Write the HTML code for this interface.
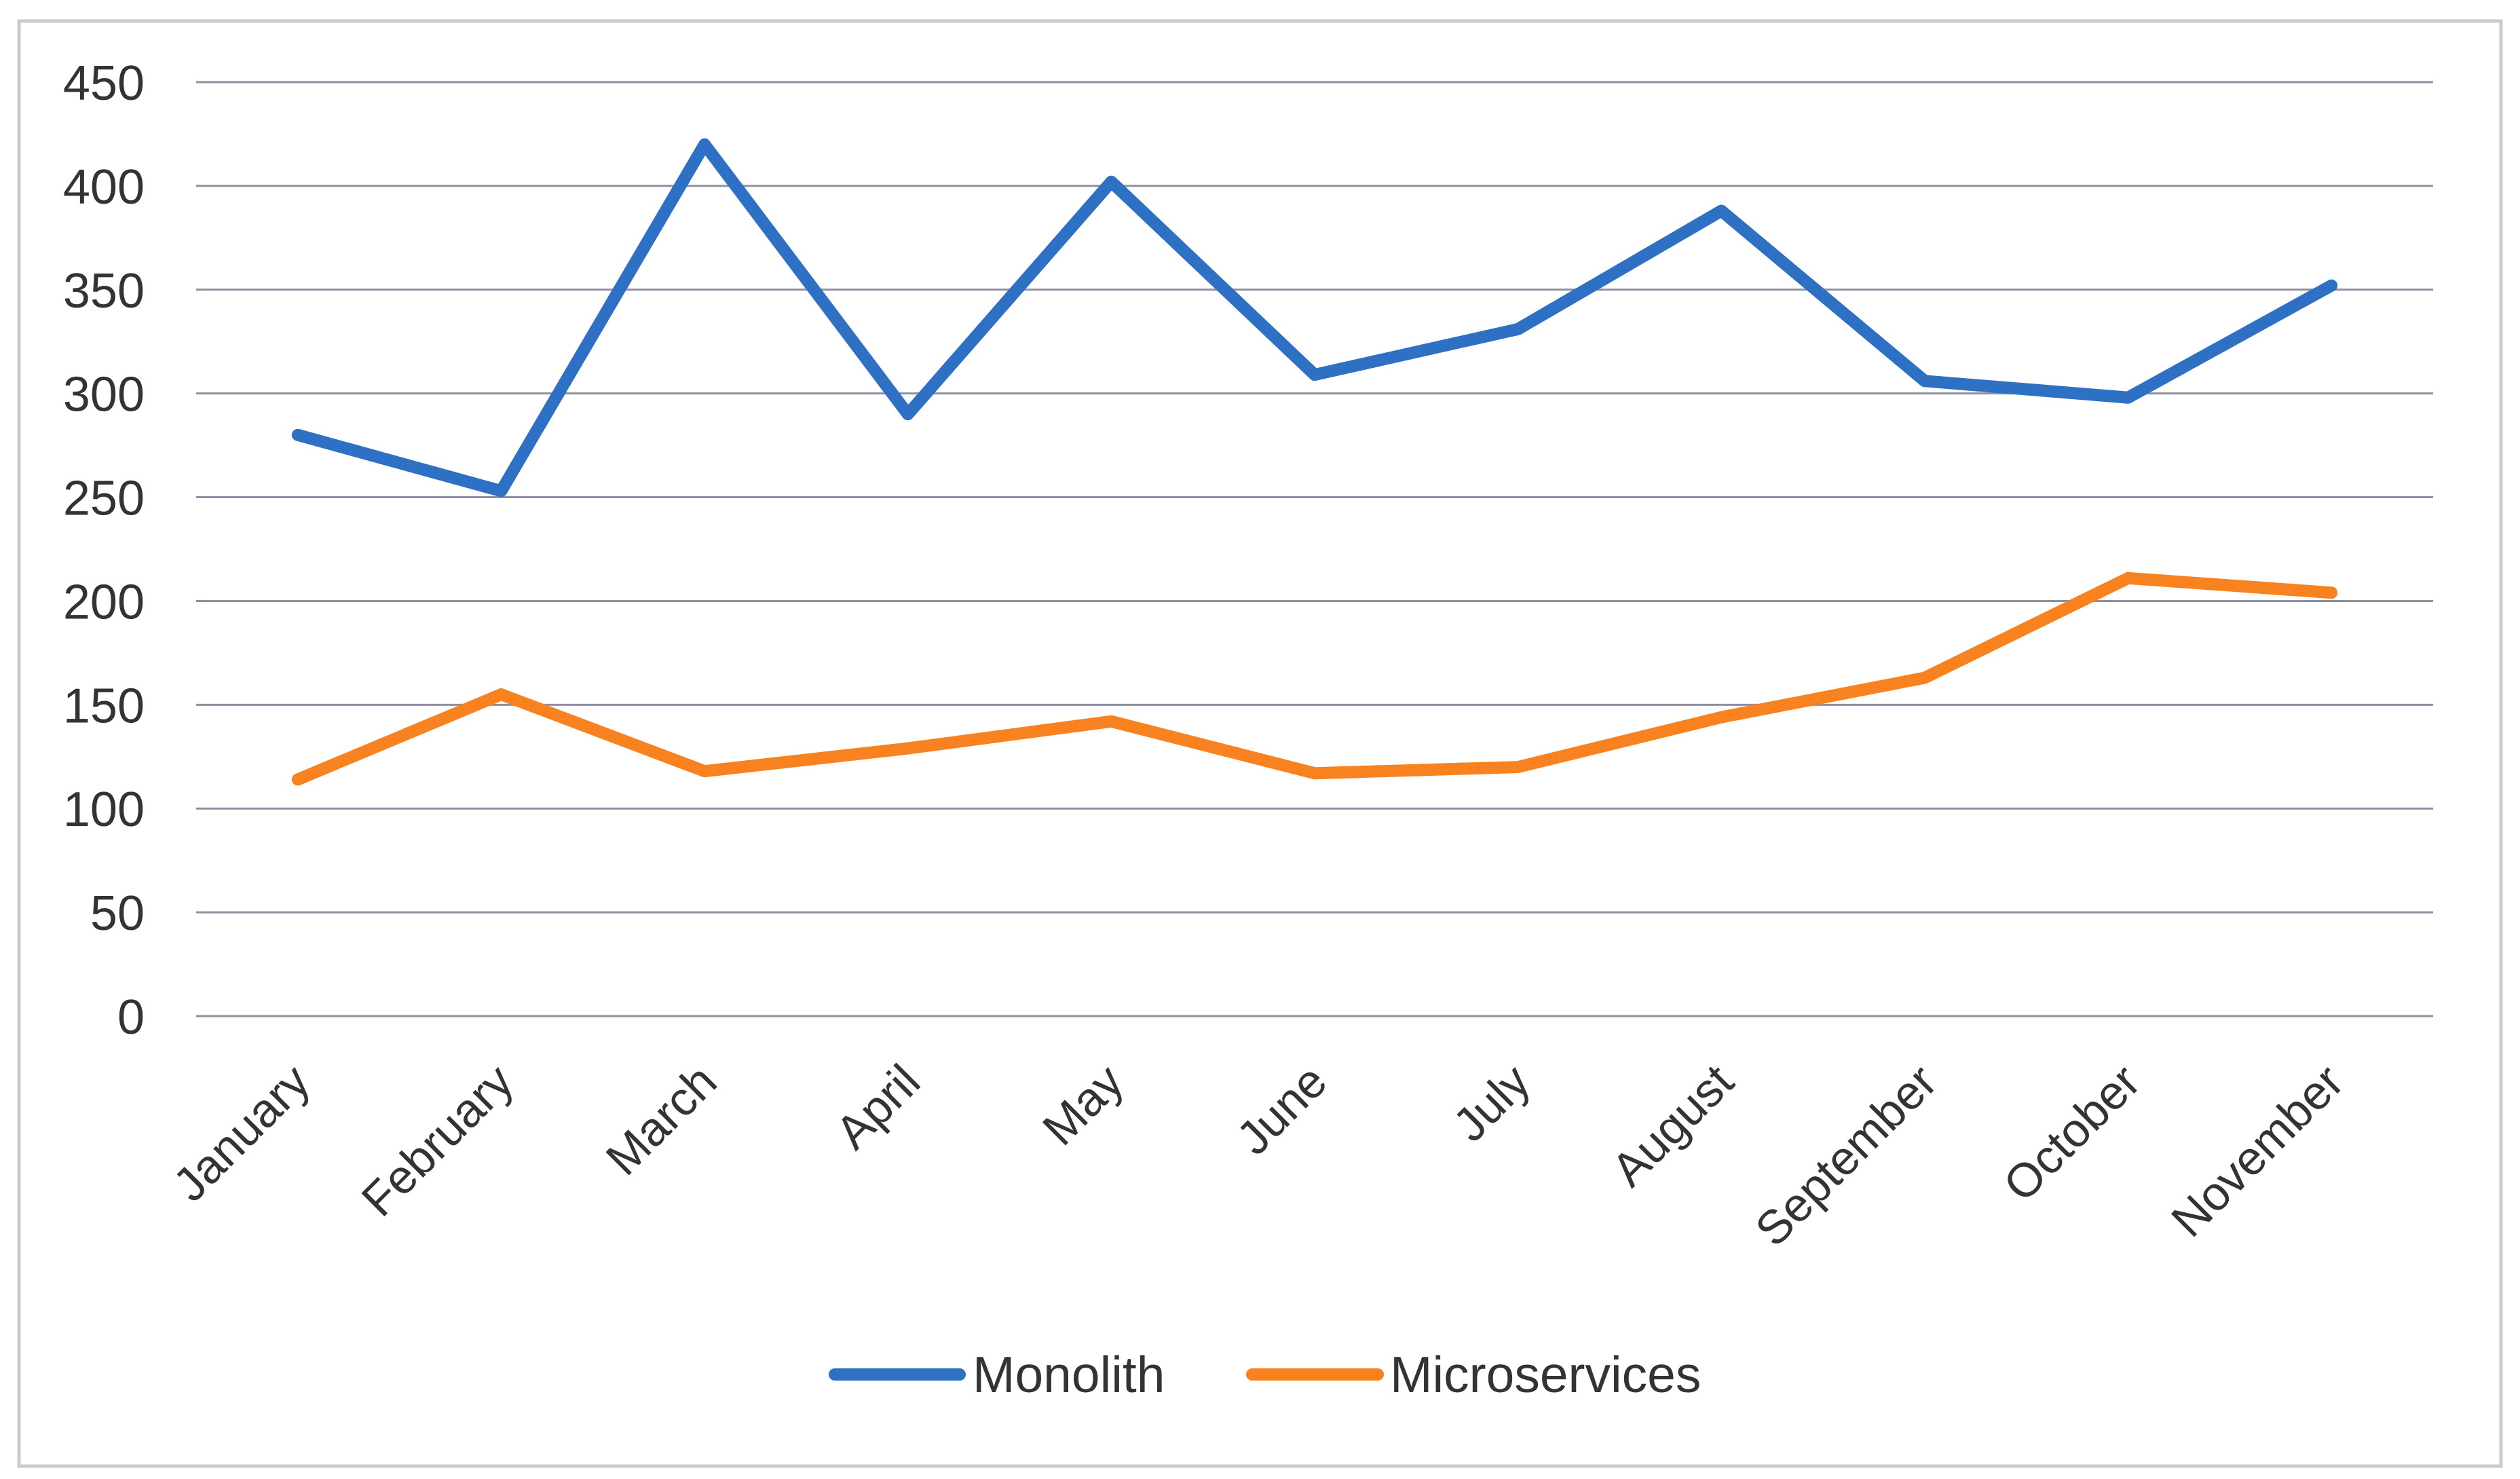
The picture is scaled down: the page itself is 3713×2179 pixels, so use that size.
<!DOCTYPE html>
<html><head><meta charset="utf-8"><style>
html,body{margin:0;padding:0;background:#fff;}
svg{display:block;font-family:"Liberation Sans",sans-serif;}
</style></head><body>
<svg width="3713" height="2179" viewBox="0 0 3713 2179" id="chart">
<rect x="28" y="31" width="3657" height="2129" fill="#fff" stroke="#c9c9d2" stroke-width="5"/>
<g id="grid"></g><g id="ylabels"></g><g id="xlabels"></g><g id="series"></g>
<g>
<line x1="1230" y1="2025" x2="1414" y2="2025" stroke="#2e70c4" stroke-width="18" stroke-linecap="round"/>
<text x="1433" y="2051" font-size="75" fill="#333">Monolith</text>
<line x1="1845" y1="2025" x2="2030" y2="2025" stroke="#f7821f" stroke-width="18" stroke-linecap="round"/>
<text x="2048" y="2051" font-size="75" fill="#333">Microservices</text>
</g>
</svg>
<script>
const categories=["January","February","March","April","May","June","July","August","September","October","November"];
const monolith=[280,253,420,290,402,309,331,388,306,298,352];
const microservices=[114,155,118,129,142,117,120,144,163,211,204];
const yTicks=[0,50,100,150,200,250,300,350,400,450];
const NS="http://www.w3.org/2000/svg";
const L=289,R=3585,T=121,B=1497,YMAX=450;
const band=(R-L)/categories.length;
function x(i){return L+band*(i+0.5);}
function y(v){return B-(v/YMAX)*(B-T);}
function mk(t,a,p){const e=document.createElementNS(NS,t);for(const k in a)e.setAttribute(k,a[k]);p.appendChild(e);return e;}
const grid=document.getElementById('grid'),yl=document.getElementById('ylabels'),xl=document.getElementById('xlabels'),sg=document.getElementById('series');
yTicks.forEach(v=>{
 const g=mk('line',{x1:L,x2:R,y1:y(v),y2:y(v),stroke:'#8e90a2','stroke-width':3},grid);
 
 
 const t=mk('text',{x:213,y:y(v)+26,'font-size':72,fill:'#333','text-anchor':'end'},yl);
 t.textContent=v;
 
 
});
categories.forEach((c,i)=>{
 const px=x(i)+22,py=1598;
 const t=mk('text',{x:px,y:py,'font-size':70,fill:'#333','text-anchor':'end',transform:`rotate(-45 ${px} ${py})`},xl);
 t.textContent=c;
 
 
});
function draw(vals,color,name){
 const p=mk('polyline',{points:vals.map((v,i)=>x(i)+','+y(v)).join(' '),fill:'none',stroke:color,'stroke-width':18,'stroke-linejoin':'round','stroke-linecap':'round'},sg);
 
 
}
draw(microservices,'#f7821f','microservices-line');
draw(monolith,'#2e70c4','monolith-line');
</script>
</body></html>
